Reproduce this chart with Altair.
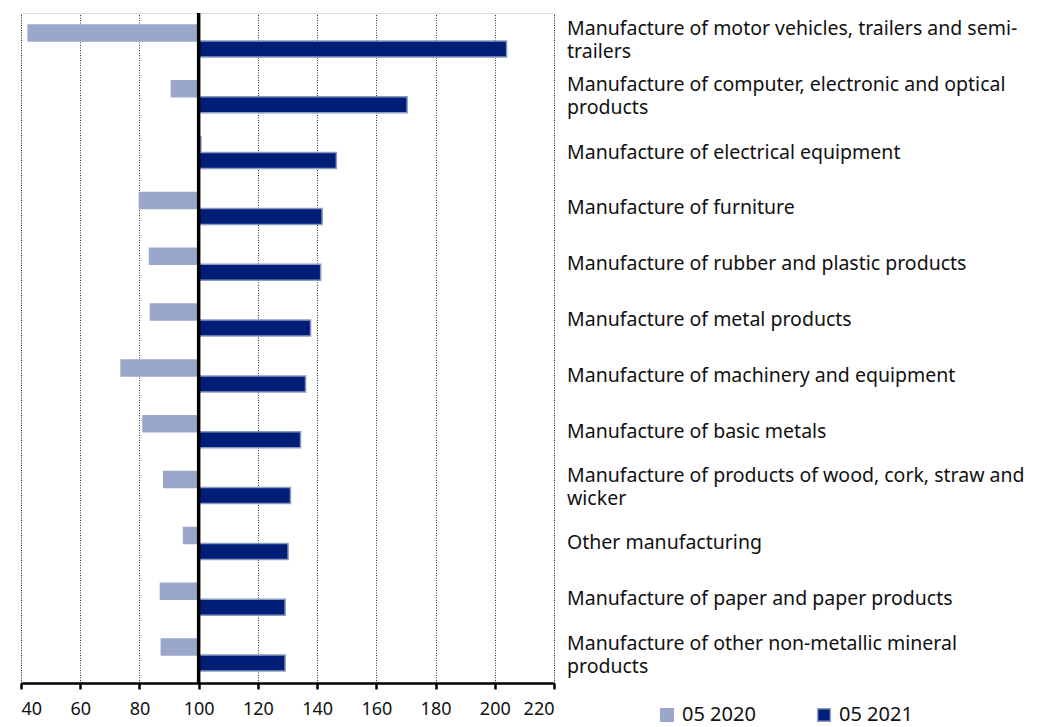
import altair as alt
import pandas as pd

categories = [
    "Manufacture of motor vehicles, trailers and semi-\ntrailers",
    "Manufacture of computer, electronic and optical\nproducts",
    "Manufacture of electrical equipment",
    "Manufacture of furniture",
    "Manufacture of rubber and plastic products",
    "Manufacture of metal products",
    "Manufacture of machinery and equipment",
    "Manufacture of basic metals",
    "Manufacture of products of wood, cork, straw and\nwicker",
    "Other manufacturing",
    "Manufacture of paper and paper products",
    "Manufacture of other non-metallic mineral\nproducts",
]
v2020 = [42.4, 90.8, 100.8, 80.0, 83.4, 83.7, 73.8, 81.2, 88.2, 94.9, 87.1, 87.4]
v2021 = [204.0, 170.4, 146.5, 141.7, 141.2, 137.8, 136.1, 134.4, 131.0, 130.2, 129.2, 129.2]
series = ["05 2020", "05 2021"]
x_ticks = [40, 60, 80, 100, 120, 140, 160, 180, 200, 220]

rows = []
for c, a, b in zip(categories, v2020, v2021):
    rows.append({"cat": c, "series": series[0], "value": a})
    rows.append({"cat": c, "series": series[1], "value": b})
df = pd.DataFrame(rows)

# label lines (one row per printed line)
lab_rows = []
for c in categories:
    parts = c.split("\n")
    n = len(parts)
    for i, p in enumerate(parts):
        pos = "single" if n == 1 else ("first" if i == 0 else "second")
        lab_rows.append({"cat": c, "line": p, "pos": pos})
lab_df = pd.DataFrame(lab_rows)

FONT = "Noto Sans"
light = "#9ba7ca"
dark = "#001e78"
dark_stroke = "#8a9abf"
LABEL_SIZE = 19.5
LINE_H = 23

y_enc = alt.Y(
    "cat:N",
    sort=categories,
    scale=alt.Scale(paddingInner=0.427, paddingOuter=0.2135),
    axis=None,
)

legend_cfg = dict(
    title=None,
    orient="none",
    legendX=636,
    legendY=692,
    direction="horizontal",
    symbolType="square",
    symbolSize=160,
    symbolStrokeWidth=1.5,
    labelFont=FONT,
    labelFontSize=20,
    labelColor="#111111",
    labelOffset=5,
    columnPadding=58,
)

bars = alt.Chart(df).mark_bar(strokeWidth=1.5).encode(
    y=y_enc,
    yOffset=alt.YOffset(
        "series:N",
        sort=series,
        scale=alt.Scale(domain=series, paddingInner=0, paddingOuter=0),
    ),
    x=alt.X(
        "value:Q",
        scale=alt.Scale(domain=[40, 220], nice=False, zero=False),
        axis=alt.Axis(
            values=x_ticks,
            title=None,
            grid=True,
            gridColor="#333333",
            gridDash=[1, 1.5],
            gridWidth=1,
            domainColor="#000000",
            domainWidth=2.5,
            tickColor="#000000",
            tickWidth=2.5,
            tickSize=6,
            labelPadding=11,
            labelFont=FONT,
            labelFontSize=18,
            labelColor="#111111",
        ),
    ),
    x2=alt.datum(100),
    fill=alt.Fill(
        "series:N",
        sort=series,
        scale=alt.Scale(domain=series, range=[light, dark]),
        legend=alt.Legend(**legend_cfg),
    ),
    stroke=alt.Stroke(
        "series:N",
        sort=series,
        scale=alt.Scale(domain=series, range=[light, dark_stroke]),
        legend=alt.Legend(**legend_cfg),
    ),
)

rule = alt.Chart(pd.DataFrame({"v": [100]})).mark_rule(
    color="#000000", strokeWidth=3.5
).encode(x=alt.X("v:Q"))


def label_layer(pos, dy):
    return (
        alt.Chart(lab_df)
        .transform_filter(alt.datum.pos == pos)
        .mark_text(
            align="left",
            baseline="middle",
            font=FONT,
            fontSize=LABEL_SIZE,
            color="#111111",
            dy=dy,
        )
        .encode(y=y_enc, x=alt.value(546), text="line:N")
    )


labels = [
    label_layer("single", 0),
    label_layer("first", -LINE_H / 2),
    label_layer("second", LINE_H / 2),
]

chart = (
    alt.layer(bars, rule, *labels)
    .properties(
        width=533,
        height=670,
        autosize=alt.AutoSizeParams(type="none"),
        padding={"left": 13, "top": 5, "right": 480, "bottom": 44},
    )
    .configure_view(stroke=None)
    .configure(background="#ffffff")
)

chart.save("out.html", embed_options={"renderer": "svg", "actions": False})
